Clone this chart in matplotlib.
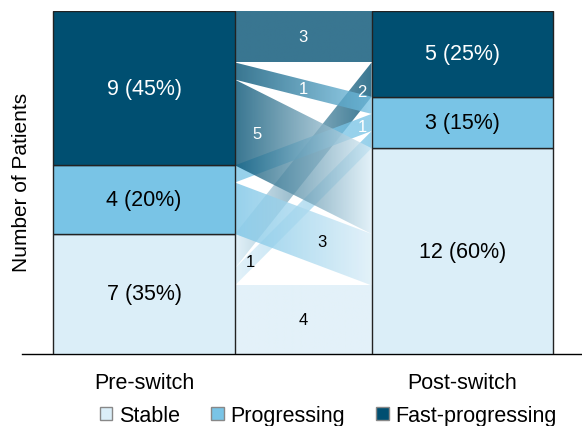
import numpy as np
import matplotlib
matplotlib.use("Agg")
import matplotlib.pyplot as plt
from matplotlib.colors import to_rgb
from matplotlib.patches import Polygon, Patch

plt.rcParams['font.family'] = ['Liberation Sans', 'DejaVu Sans']

# states, bottom to top
states = ["Stable", "Progressing", "Fast-progressing"]
colors = ["#dbeef8", "#79c4e6", "#004f71"]
text_colors = ["black", "black", "white"]
pre_counts = [7, 4, 9]
post_counts = [12, 3, 5]
groups = ["Pre-switch", "Post-switch"]

# flows[src][dst]
flows = [[4, 1, 2],
         [3, 1, 0],
         [5, 1, 3]]
# label position along the flow (0 = left, 1 = right) and label colour
label_frac = [[0.5, 0.11, 0.93],
              [0.64, 0.93, 0.5],
              [0.16, 0.5, 0.5]]
label_col = [["black", "black", "white"],
             ["black", "white", "white"],
             ["white", "white", "white"]]

total = sum(pre_counts)
width = 0.571
xl, xr = 0 + width / 2, 1 - width / 2

fig = plt.figure(figsize=(5.82, 4.27), dpi=100)
ax = fig.add_axes([0.0378, 0.1686, 0.9622, 0.8033])

# bars
for xc, counts in [(0, pre_counts), (1, post_counts)]:
    bottom = 0
    for i, c in enumerate(counts):
        ax.bar(xc, c, width=width, bottom=bottom, color=colors[i],
               edgecolor="#222222", linewidth=1.0, zorder=3)
        ax.text(xc, bottom + c / 2, f"{c} ({c / total * 100:.0f}%)",
                ha="center", va="center", fontsize=15.5, color=text_colors[i], zorder=4)
        bottom += c

# stacking positions of flows on each side
left_pos = {}
y = 0
for s in range(3):
    for d in range(3):
        left_pos[(s, d)] = (y, y + flows[s][d])
        y += flows[s][d]
right_pos = {}
y = 0
for d in range(3):
    for s in range(3):
        right_pos[(s, d)] = (y, y + flows[s][d])
        y += flows[s][d]

alpha = 0.78
for s in range(3):
    for d in range(3):
        v = flows[s][d]
        if v == 0:
            continue
        l0, l1 = left_pos[(s, d)]
        r0, r1 = right_pos[(s, d)]
        poly = Polygon([(xl, l0), (xr, r0), (xr, r1), (xl, l1)], closed=True,
                       facecolor="none", edgecolor="none")
        ax.add_patch(poly)
        c0 = np.array(to_rgb(colors[s]))
        c1 = np.array(to_rgb(colors[d]))
        t = np.linspace(0, 1, 256)[:, None]
        grad = np.zeros((1, 256, 4))
        grad[0, :, :3] = c0 * (1 - t) + c1 * t
        grad[0, :, 3] = alpha
        im = ax.imshow(grad, extent=(xl, xr, min(l0, r0), max(l1, r1)),
                       aspect="auto", origin="lower", zorder=2, interpolation="bilinear")
        im.set_clip_path(poly)
        f = label_frac[s][d]
        lx = xl + f * (xr - xl)
        ly = (l0 + l1) / 2 * (1 - f) + (r0 + r1) / 2 * f
        ax.text(lx, ly, str(v), ha="center", va="center", fontsize=12,
                color=label_col[s][d], zorder=5)

ax.set_xlim(-0.383, 1.375)
ax.set_ylim(0, 20)
ax.set_xticks([0, 1])
ax.set_xticklabels(groups, fontsize=15.5)
ax.tick_params(axis="x", length=0, pad=13)
ax.set_yticks([])
for sp in ["top", "right", "left"]:
    ax.spines[sp].set_visible(False)
ax.spines["bottom"].set_linewidth(1.0)
fig.text(22 / 582, 0.572, "Number of Patients", rotation=90, ha="center", va="center",
         fontsize=15)

handles = [Patch(facecolor=colors[i], edgecolor="#888888", label=states[i]) for i in range(3)]
fig.legend(handles=handles, loc="center", bbox_to_anchor=(0.5645, 0.025), ncol=3,
           frameon=False, fontsize=15.5, handlelength=0.56, handleheight=0.56,
           handletextpad=0.33, columnspacing=1.45, borderpad=0)

fig.savefig("out.png", dpi=100)
